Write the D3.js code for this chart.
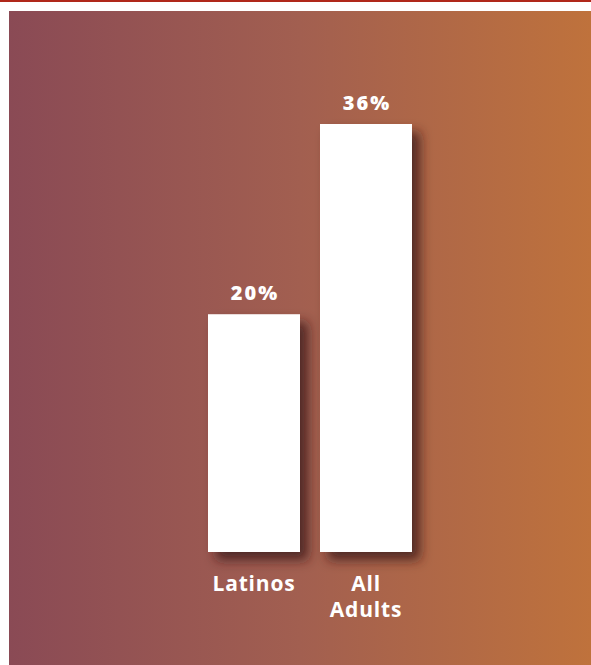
<!DOCTYPE html>
<html><head><meta charset="utf-8">
<script src="https://cdn.jsdelivr.net/npm/d3@7"></script>
<style>html,body{margin:0;padding:0;background:#fff;}svg{display:block;}</style>
</head><body>
<script>
const categories = ["Latinos", "All Adults"];
const values = [20, 36];
const valueLabels = ["20%", "36%"];

const W = 591, H = 665;
const svg = d3.select("body").append("svg").attr("width", W).attr("height", H);
const defs = svg.append("defs");
const grad = defs.append("linearGradient").attr("id", "bg").attr("x1", 0).attr("x2", 1).attr("y1", 0).attr("y2", 0);
grad.append("stop").attr("offset", "0%").attr("stop-color", "#8a4a55");
grad.append("stop").attr("offset", "50%").attr("stop-color", "#a25f50");
grad.append("stop").attr("offset", "100%").attr("stop-color", "#bf723c");
const f = defs.append("filter").attr("id", "sh").attr("x", "-30%").attr("y", "-30%").attr("width", "170%").attr("height", "170%");
f.append("feDropShadow").attr("dx", 8).attr("dy", 8).attr("stdDeviation", 6).attr("flood-color", "#3a1e1a").attr("flood-opacity", 0.8);

svg.append("rect").attr("x", 0).attr("y", 0).attr("width", W).attr("height", 2).attr("fill", "#b0281a");
svg.append("rect").attr("x", 9).attr("y", 11).attr("width", W - 9).attr("height", H - 11).attr("fill", "url(#bg)");

const x = d3.scaleBand().domain(categories).range([208, 412]).paddingInner(20 / 112).paddingOuter(0);
const y = d3.scaleLinear().domain([0, 36]).range([552, 124]);

svg.selectAll("rect.bar").data(categories).enter().append("rect").attr("class", "bar")
  .attr("x", d => x(d)).attr("width", x.bandwidth())
  .attr("y", (d, i) => y(values[i])).attr("height", (d, i) => y(0) - y(values[i]))
  .attr("fill", "#fff").attr("filter", "url(#sh)");

svg.selectAll("text.val").data(categories).enter().append("text").attr("class", "val")
  .attr("x", d => x(d) + x.bandwidth() / 2 + 1).attr("y", (d, i) => y(values[i]) - 14)
  .attr("text-anchor", "middle").attr("fill", "#fff")
  .style("font-family", "'Open Sans', sans-serif").style("font-weight", 800).style("font-size", "20px")
  .style("letter-spacing", "2px")
  .text((d, i) => valueLabels[i]);

const catText = svg.selectAll("text.cat").data(categories).enter().append("text").attr("class", "cat")
  .attr("x", d => x(d) + x.bandwidth() / 2).attr("y", 593)
  .attr("text-anchor", "middle").attr("fill", "#fff")
  .style("font-family", "'Open Sans', sans-serif").style("font-weight", 700).style("font-size", "21px")
  .style("letter-spacing", "0.8px");
catText.each(function(d) {
  const words = d === "All Adults" ? ["All", "Adults"] : [d];
  const t = d3.select(this);
  words.forEach((w, k) => t.append("tspan").attr("x", x(d) + x.bandwidth() / 2).attr("dy", k === 0 ? -2 : 26).text(w));
});
</script>
</body></html>
